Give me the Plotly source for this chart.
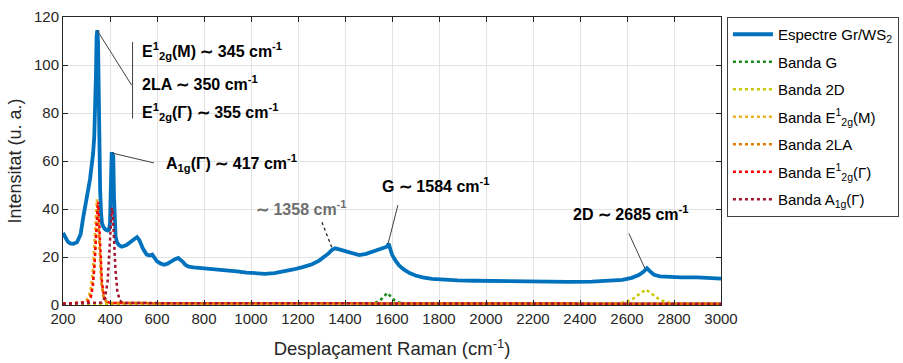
import plotly.graph_objects as go

# ---------------- data ----------------
spec_x = [200, 210, 220, 230, 245, 260, 275, 286, 300, 308, 315, 322, 328, 333, 337, 340, 343, 346,
          349, 352, 355, 358, 362, 366, 372, 380, 390, 396, 400, 403, 407, 411, 414, 417, 420, 424,
          430, 440, 450, 470, 490, 505, 515, 525, 540, 556, 570, 580, 590, 600, 615, 630, 645, 660,
          675, 690, 700, 710, 720, 735, 755, 780, 820, 860, 900, 940, 980, 1020, 1060, 1100, 1140,
          1180, 1220, 1260, 1290, 1310, 1330, 1345, 1358, 1375, 1400, 1430, 1460, 1490, 1520, 1545,
          1565, 1578, 1586, 1592, 1600, 1615, 1630, 1650, 1675, 1700, 1730, 1770, 1820, 1880, 1950,
          2050, 2150, 2250, 2350, 2450, 2530, 2580, 2620, 2650, 2670, 2685, 2698, 2715, 2740, 2780,
          2830, 2900, 2960, 3000]
spec_y = [30.0, 28.0, 26.5, 25.7, 25.5, 26.2, 29.5, 36.5, 43.0, 48.5, 52.5, 57.5, 63.0, 70.0, 80.0,
          95.0, 112.0, 114.5, 110.0, 85.0, 62.0, 48.0, 38.0, 34.0, 32.5, 31.5, 31.0, 31.5, 34.0,
          50.0, 63.0, 63.0, 62.0, 45.0, 33.0, 28.5, 26.0, 24.8, 24.3, 25.0, 26.5, 27.8, 28.3, 27.0,
          23.5, 21.0, 20.6, 21.0, 19.5, 18.2, 17.3, 16.8, 17.2, 18.2, 19.0, 19.6, 19.0, 18.0, 16.8,
          16.0, 15.7, 15.5, 15.2, 14.8, 14.4, 14.0, 13.5, 13.1, 13.0, 13.3, 13.9, 14.8, 15.8, 17.0,
          18.5, 19.8, 21.5, 23.0, 23.6, 23.2, 22.5, 21.5, 20.8, 21.3, 22.3, 23.0, 23.8, 24.3, 25.5,
          23.5, 21.0, 18.5, 16.5, 14.8, 13.3, 12.3, 11.5, 10.9, 10.5, 10.3, 10.1, 9.9, 9.8, 9.7,
          9.6, 9.7, 10.0, 10.5, 11.3, 12.5, 13.8, 15.3, 14.0, 12.6, 11.9, 11.6, 11.5, 11.5, 11.3,
          11.0]

g_x = [200, 1500, 1530, 1550, 1565, 1580, 1595, 1610, 1630, 1660, 3000]
g_y = [0.5, 0.6, 1.0, 2.0, 3.5, 5.0, 3.5, 2.0, 1.0, 0.6, 0.5]

d2_x = [200, 2550, 2595, 2625, 2652, 2680, 2708, 2735, 2765, 2810, 3000]
d2_y = [0.5, 0.6, 1.2, 2.5, 4.5, 6.5, 4.5, 2.5, 1.2, 0.6, 0.5]

em_x = [200, 295, 310, 320, 328, 335, 340, 344, 349, 355, 362, 370, 382, 400, 3000]
em_y = [0.5, 1.2, 3.5, 8.0, 16.0, 28.0, 38.0, 44.0, 36.0, 22.0, 10.0, 4.0, 1.5, 0.8, 0.5]

la_x = [200, 300, 314, 324, 332, 338, 343, 347, 352, 358, 365, 373, 385, 400, 3000]
la_y = [0.5, 1.2, 3.0, 7.0, 14.0, 25.0, 35.0, 40.0, 33.0, 20.0, 9.0, 3.5, 1.3, 0.8, 0.5]

eg_x = [200, 305, 318, 327, 334, 340, 345, 349, 354, 359, 366, 375, 388, 405, 3000]
eg_y = [0.5, 1.2, 3.0, 8.0, 17.0, 30.0, 40.0, 43.0, 34.0, 20.0, 9.0, 3.5, 1.3, 0.8, 0.5]

a1_x = [200, 365, 380, 390, 397, 403, 408, 412, 417, 423, 431, 441, 455, 3000]
a1_y = [0.5, 1.0, 3.5, 10.0, 22.0, 34.0, 40.5, 38.0, 28.0, 15.0, 6.0, 2.0, 0.8, 0.5]

x_ticks = [200, 400, 600, 800, 1000, 1200, 1400, 1600, 1800, 2000, 2200, 2400, 2600, 2800, 3000]
y_ticks = [0, 20, 40, 60, 80, 100, 120]

FONT = "Liberation Sans, Arial, Helvetica, sans-serif"
TXT = "#262626"

fig = go.Figure()
fig.add_trace(go.Scatter(x=spec_x, y=spec_y, mode="lines", name="Espectre Gr/WS<sub>2</sub>",
                         line=dict(color="#0072BD", width=3.8), legendgroup="a"))
bands = [
    (g_x, g_y, "Banda G", "#1A8A1A"),
    (d2_x, d2_y, "Banda 2D", "#C8C800"),
    (em_x, em_y, "Banda E<sup>1</sup><sub>2g</sub>(M)", "#EDB120"),
    (la_x, la_y, "Banda 2LA", "#DE7D00"),
    (eg_x, eg_y, "Banda E<sup>1</sup><sub>2g</sub>(Γ)", "#FF0000"),
    (a1_x, a1_y, "Banda A<sub>1g</sub>(Γ)", "#A2142F"),
]
for i, (bx, by, nm, col) in enumerate(bands):
    fig.add_trace(go.Scatter(x=bx, y=by, mode="lines", name=nm,
                             line=dict(color=col, width=2.5, dash="dot"), legendgroup=str(i)))

ln = dict(color="#404040", width=1)
shapes = [
    dict(type="line", xref="x", yref="y", x0=345, y0=114.5, x1=492, y1=91.6, line=ln),
    dict(type="line", xref="x", yref="y", x0=496, y0=109.6, x1=496, y1=77.7, line=ln),
    dict(type="line", xref="x", yref="y", x0=409, y0=63.3, x1=587, y1=59.2, line=ln),
    dict(type="line", xref="x", yref="y", x0=1302, y0=34.5, x1=1345, y1=23.7,
         line=dict(color="#202020", width=1.3, dash="dot")),
    dict(type="line", xref="x", yref="y", x0=1625, y0=41.6, x1=1583, y1=25.4, line=ln),
    dict(type="line", xref="x", yref="y", x0=2608, y0=29.8, x1=2676, y1=15.3, line=ln),
]

def ann(x, y, text, color="black"):
    return dict(x=x, y=y, xref="x", yref="y", text=text, showarrow=False, xanchor="left",
                yanchor="middle", font=dict(family=FONT, size=16, color=color))

annotations = [
    ann(528, 106, "<b>E<sup>1</sup><sub>2g</sub>(M) ∼ 345 cm<sup>-1</sup></b>"),
    ann(528, 92.3, "<b>2LA ∼ 350 cm<sup>-1</sup></b>"),
    ann(528, 80.5, "<b>E<sup>1</sup><sub>2g</sub>(Γ) ∼ 355 cm<sup>-1</sup></b>"),
    ann(628, 59, "<b>A<sub>1g</sub>(Γ) ∼ 417 cm<sup>-1</sup></b>"),
    ann(1012, 40.4, "<b>∼ 1358 cm<sup>-1</sup></b>", "#6E6E6E"),
    ann(1550, 50, "<b>G ∼ 1584 cm<sup>-1</sup></b>"),
    ann(2362, 38.2, "<b>2D ∼ 2685 cm<sup>-1</sup></b>"),
]

axis_common = dict(showline=True, linecolor=TXT, linewidth=1, mirror="ticks", ticks="inside",
                   ticklen=5, tickcolor=TXT, showgrid=True, gridcolor="#E3E3E3", gridwidth=1,
                   zeroline=False, automargin=False,
                   tickfont=dict(family=FONT, size=15, color=TXT))

fig.update_layout(
    width=903, height=363,
    margin=dict(l=63, r=182, t=17, b=58, autoexpand=False),
    paper_bgcolor="white", plot_bgcolor="white",
    font=dict(family=FONT, color=TXT),
    showlegend=True,
    legend=dict(x=1.009, y=1.0, xanchor="left", yanchor="top", bgcolor="white",
                bordercolor="#404040", borderwidth=1, tracegroupgap=5, itemwidth=40,
                font=dict(family=FONT, size=15, color="black")),
    xaxis=dict(range=[200, 3000], tickvals=x_ticks,
               title=dict(text="Desplaçament Raman (cm<sup>-1</sup>)", standoff=16,
                          font=dict(family=FONT, size=18.5, color=TXT)), **axis_common),
    yaxis=dict(range=[0, 120], tickvals=y_ticks,
               title=dict(text="Intensitat (u. a.)", standoff=7,
                          font=dict(family=FONT, size=18, color=TXT)), **axis_common),
    shapes=shapes, annotations=annotations,
)

fig.write_html("out.html")
